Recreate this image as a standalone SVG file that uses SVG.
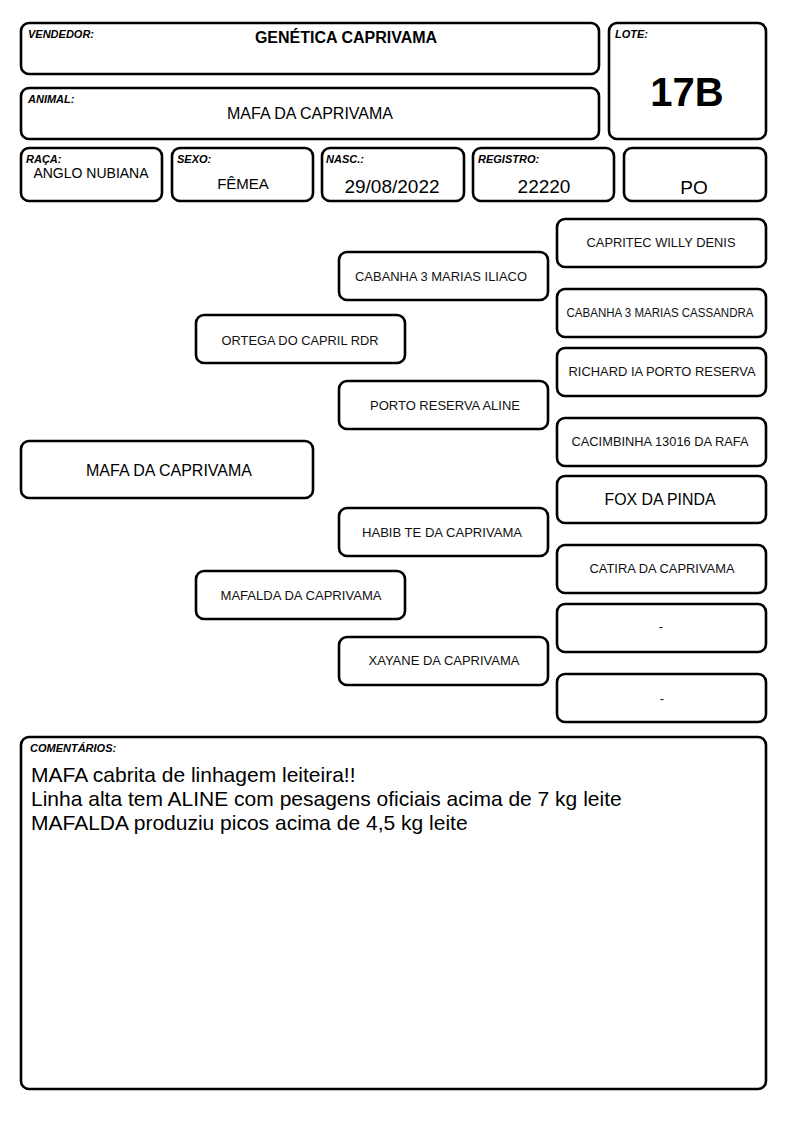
<svg xmlns="http://www.w3.org/2000/svg" width="794" height="1123" viewBox="0 0 794 1123">
<style>
rect{fill:#fff;stroke:#000;stroke-width:2.6}
text{font-family:"Liberation Sans",Arial,sans-serif;fill:#000}
.lbl{font-size:11px;font-weight:bold;font-style:italic}
.val{font-size:16px;text-anchor:middle}
.ped{font-size:13px;text-anchor:middle;fill:#111}
.com{font-size:21px}
</style>
<rect x="0" y="0" width="794" height="1123" style="stroke:none"/>
<g id="vendedor"><rect x="21" y="23" width="578" height="51" rx="8"/><text class="lbl" x="28" y="38">VENDEDOR:</text><text x="346" y="43" style="font-size:16px;font-weight:bold;text-anchor:middle">GENÉTICA CAPRIVAMA</text></g>
<g id="lote"><rect x="609" y="23" width="157" height="116" rx="8"/><text class="lbl" x="615" y="38">LOTE:</text><text x="687" y="106" style="font-size:40px;font-weight:bold;text-anchor:middle">17B</text></g>
<g id="animal"><rect x="21" y="88" width="578" height="51" rx="8"/><text class="lbl" x="28" y="103">ANIMAL:</text><text class="val" x="310" y="119">MAFA DA CAPRIVAMA</text></g>
<g id="raca"><rect x="21" y="148" width="141" height="53" rx="8"/><text class="lbl" x="26" y="163">RAÇA:</text><text class="val" x="91" y="178" style="font-size:14px">ANGLO NUBIANA</text></g>
<g id="sexo"><rect x="172" y="148" width="141" height="53" rx="8"/><text class="lbl" x="177" y="163">SEXO:</text><text class="val" x="243" y="189" style="font-size:15px">FÊMEA</text></g>
<g id="nasc"><rect x="322" y="148" width="142" height="53" rx="8"/><text class="lbl" x="326" y="163">NASC.:</text><text class="val" x="392" y="193" style="font-size:19px">29/08/2022</text></g>
<g id="registro"><rect x="473" y="148" width="141" height="53" rx="8"/><text class="lbl" x="478" y="163">REGISTRO:</text><text class="val" x="544" y="193" style="font-size:19px">22220</text></g>
<g id="po"><rect x="624" y="148" width="142" height="53" rx="8"/><text class="val" x="694" y="194" style="font-size:19px">PO</text></g>

<g id="connectors"></g>

<g id="mafa"><rect x="21" y="441" width="292" height="57" rx="8"/><text class="val" x="169" y="476" textLength="166" lengthAdjust="spacingAndGlyphs">MAFA DA CAPRIVAMA</text></g>
<g id="ortega"><rect x="196" y="315" width="209" height="48" rx="8"/><text class="ped" x="300" y="345" textLength="157" lengthAdjust="spacingAndGlyphs">ORTEGA DO CAPRIL RDR</text></g>
<g id="mafalda"><rect x="196" y="571" width="209" height="48" rx="8"/><text class="ped" x="301" y="600" textLength="161" lengthAdjust="spacingAndGlyphs">MAFALDA DA CAPRIVAMA</text></g>
<g id="iliaco"><rect x="339" y="252" width="209" height="48" rx="8"/><text class="ped" x="441" y="281" textLength="172" lengthAdjust="spacingAndGlyphs">CABANHA 3 MARIAS ILIACO</text></g>
<g id="aline"><rect x="339" y="381" width="209" height="48" rx="8"/><text class="ped" x="445" y="410" textLength="150" lengthAdjust="spacingAndGlyphs">PORTO RESERVA ALINE</text></g>
<g id="habib"><rect x="339" y="508" width="209" height="48" rx="8"/><text class="ped" x="442" y="537" textLength="160" lengthAdjust="spacingAndGlyphs">HABIB TE DA CAPRIVAMA</text></g>
<g id="xayane"><rect x="339" y="637" width="209" height="48" rx="8"/><text class="ped" x="444" y="665" textLength="151" lengthAdjust="spacingAndGlyphs">XAYANE DA CAPRIVAMA</text></g>
<g id="capritec"><rect x="557" y="219" width="209" height="48" rx="8"/><text class="ped" x="661" y="247" textLength="149" lengthAdjust="spacingAndGlyphs">CAPRITEC WILLY DENIS</text></g>
<g id="cassandra"><rect x="557" y="289" width="209" height="48" rx="8"/><text class="ped" x="660" y="317" style="font-size:12px" textLength="187" lengthAdjust="spacingAndGlyphs">CABANHA 3 MARIAS CASSANDRA</text></g>
<g id="richard"><rect x="557" y="348" width="209" height="48" rx="8"/><text class="ped" x="662" y="376" textLength="187" lengthAdjust="spacingAndGlyphs">RICHARD IA PORTO RESERVA</text></g>
<g id="cacimbinha"><rect x="557" y="418" width="209" height="48" rx="8"/><text class="ped" x="660" y="446" textLength="177" lengthAdjust="spacingAndGlyphs">CACIMBINHA 13016 DA RAFA</text></g>
<g id="fox"><rect x="557" y="476" width="209" height="47" rx="8"/><text class="val" x="660" y="505" textLength="111" lengthAdjust="spacingAndGlyphs">FOX DA PINDA</text></g>
<g id="catira"><rect x="557" y="545" width="209" height="48" rx="8"/><text class="ped" x="662" y="573" textLength="145" lengthAdjust="spacingAndGlyphs">CATIRA DA CAPRIVAMA</text></g>
<g id="blank1"><rect x="557" y="604" width="209" height="48" rx="8"/><text class="ped" x="661" y="631">-</text></g>
<g id="blank2"><rect x="557" y="674" width="209" height="48" rx="8"/><text class="ped" x="662" y="703">-</text></g>

<g id="comentarios"><rect x="21" y="737" width="745" height="352" rx="8"/><text class="lbl" x="30" y="752">COMENTÁRIOS:</text>
<text class="com" x="31" y="782">MAFA cabrita de linhagem leiteira!!</text>
<text class="com" x="31" y="806">Linha alta tem ALINE com pesagens oficiais acima de 7 kg leite</text>
<text class="com" x="31" y="830">MAFALDA produziu picos acima de 4,5 kg leite</text></g>
</svg>
